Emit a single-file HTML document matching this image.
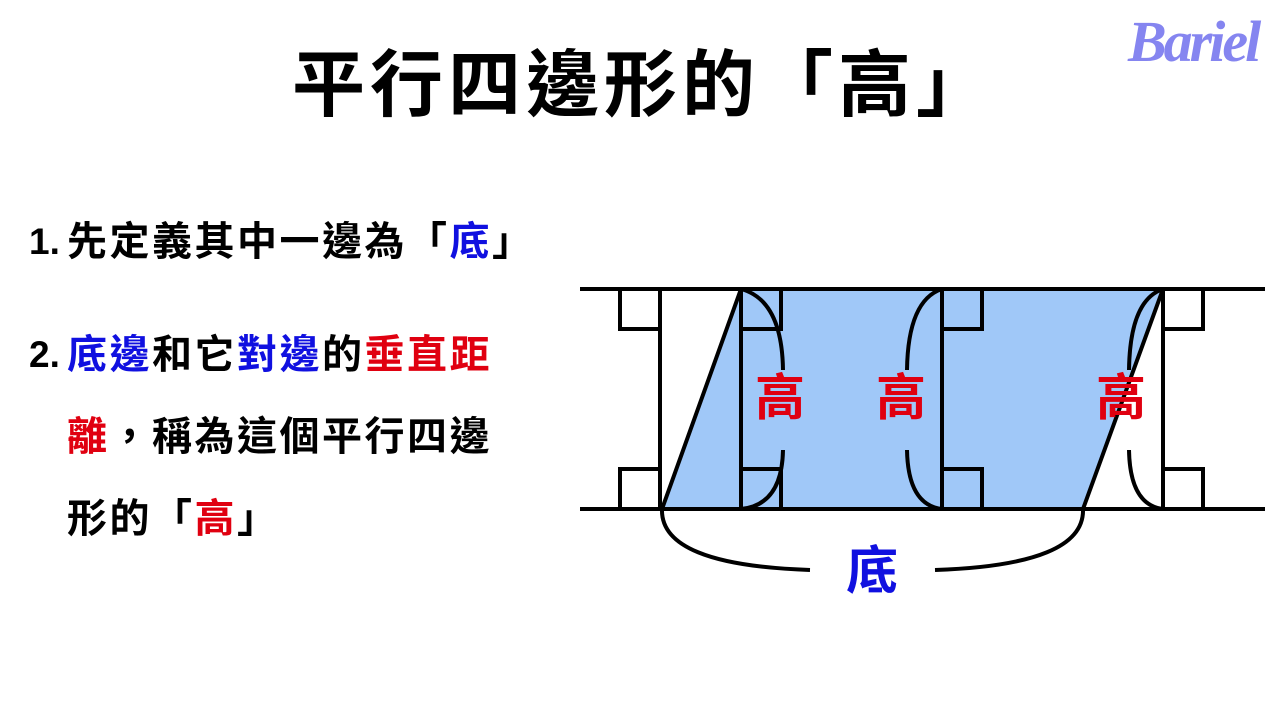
<!DOCTYPE html>
<html><head><meta charset="utf-8"><style>
body{margin:0;width:1280px;height:720px;background:#fff;position:relative;overflow:hidden;font-family:"Liberation Sans","Noto Sans CJK TC",sans-serif;}
.t{position:absolute;white-space:nowrap;font-weight:bold;}
.l{font-size:40px;letter-spacing:2.5px;left:67px;line-height:44px;}
.n{position:absolute;left:29px;font-size:37px;font-weight:bold;line-height:44px;}
.b{color:#1010e0}.r{color:#e00010}
</style></head><body>
<div class="t" style="left:292px;top:44px;font-size:73px;letter-spacing:5px;line-height:84px;">平行四邊形的「高」</div>
<div class="t" style="left:1128px;top:8px;font-size:58px;color:#8585f0;font-family:'Liberation Serif',serif;font-style:italic;letter-spacing:-3px;">Bariel</div>
<div class="n" style="top:220px;">1.</div>
<div class="t l" style="top:220px;">先定義其中一邊為「<span class="b">底</span>」</div>
<div class="n" style="top:333px;">2.</div>
<div class="t l" style="top:333px;"><span class="b">底邊</span>和它<span class="b">對邊</span>的<span class="r">垂直距</span></div>
<div class="t l" style="top:415px;"><span class="r">離</span>，稱為這個平行四邊</div>
<div class="t l" style="top:497px;">形的「<span class="r">高</span>」</div>
<svg style="position:absolute;left:0;top:0" width="1280" height="720">
<polygon points="662,509 741,289 1163,289 1083,509" fill="#a0c8f8"/>
<g stroke="#000" stroke-width="4" fill="none">
<line x1="580" y1="289" x2="1265" y2="289"/>
<line x1="580" y1="509" x2="1265" y2="509"/>
<line x1="660" y1="289" x2="660" y2="509"/>
<line x1="741" y1="289" x2="741" y2="509"/>
<line x1="942" y1="289" x2="942" y2="509"/>
<line x1="1163" y1="289" x2="1163" y2="509"/>
<polyline points="660,329 620,329 620,289"/>
<polyline points="660,469 620,469 620,509"/>
<polyline points="741,329 781,329 781,289"/>
<polyline points="741,469 781,469 781,509"/>
<polyline points="942,329 982,329 982,289"/>
<polyline points="942,469 982,469 982,509"/>
<polyline points="1163,329 1203,329 1203,289"/>
<polyline points="1163,469 1203,469 1203,509"/>
<polygon points="662,509 741,289 1163,289 1083,509"/>
<path d="M741,289 Q782,300 783,370"/>
<path d="M783,450 Q782,505 741,509"/>
<path d="M942,289 Q908,300 907,370"/>
<path d="M907,450 Q908,505 942,509"/>
<path d="M1163,289 Q1130,300 1129,370"/>
<path d="M1129,450 Q1130,505 1163,509"/>
<path d="M662,509 Q660,565 810,570"/>
<path d="M935,570 Q1085,565 1083,509"/>
</g>
</svg>
<div class="t r" style="left:755px;top:368px;font-size:50px;line-height:60px;">高</div>
<div class="t r" style="left:876px;top:368px;font-size:50px;line-height:60px;">高</div>
<div class="t r" style="left:1096px;top:368px;font-size:50px;line-height:60px;">高</div>
<div class="t b" style="left:846px;top:542px;font-size:52px;line-height:60px;">底</div>
</body></html>
